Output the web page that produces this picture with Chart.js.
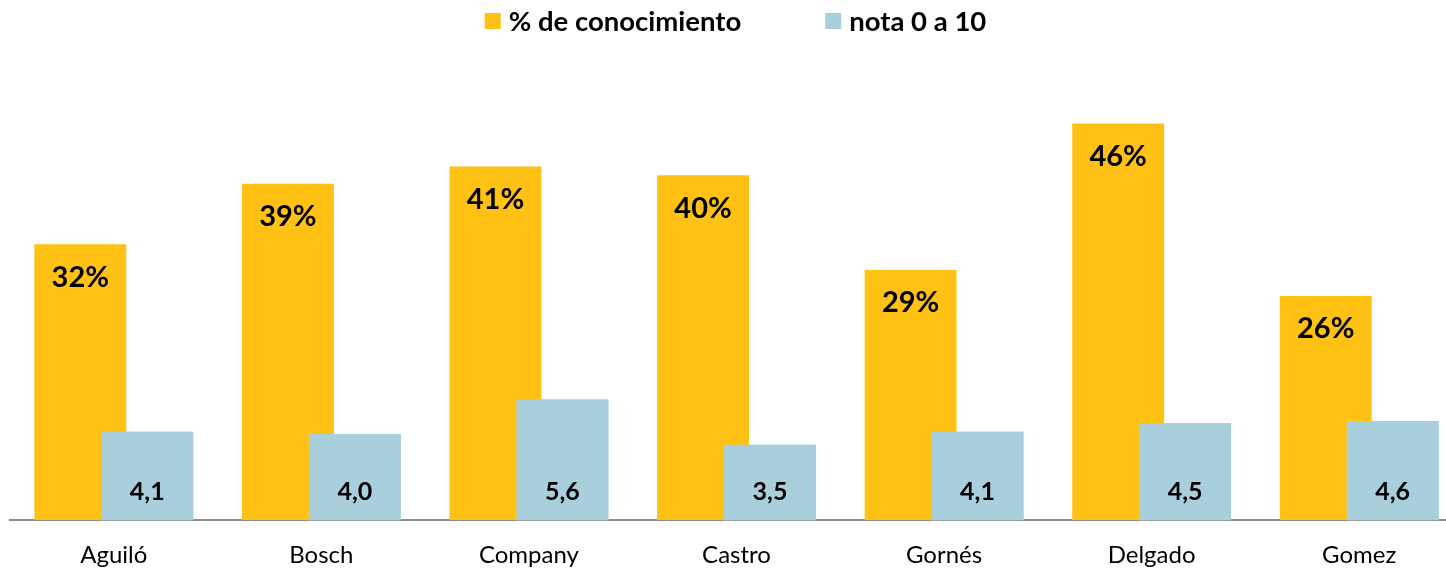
<!DOCTYPE html>
<html>
<head>
<meta charset="utf-8">
<script src="https://cdn.jsdelivr.net/npm/chart.js@4.4.1/dist/chart.umd.min.js"></script>
<style>
  html, body { margin: 0; padding: 0; background: #fff; overflow: hidden; }
  #wrap { width: 1463px; height: 591px; position: relative; }
</style>
</head>
<body>
<div id="wrap"><canvas id="chart"></canvas></div>
<script>
const categories = ["Aguiló", "Bosch", "Company", "Castro", "Gornés", "Delgado", "Gomez"];
const conocimiento = [32, 39, 41, 40, 29, 46, 26];
const nota = [4.1, 4.0, 5.6, 3.5, 4.1, 4.5, 4.6];
const seriesNames = ["% de conocimiento", "nota 0 a 10"];

const yellow = "#FFC114";
const blue = "#A9CFDC";
const fontFamily = "Lato, 'Open Sans', sans-serif";

// blue bars sit on top of the yellow ones, then the value labels
const overlayPlugin = {
  id: "overlay",
  afterDatasetsDraw(chart) {
    chart.getDatasetMeta(1).controller.draw();
    const ctx = chart.ctx;
    const base = chart.chartArea.bottom;
    ctx.save();
    ctx.fillStyle = "#000";
    ctx.textAlign = "center";
    ctx.textBaseline = "middle";
    ctx.font = "bold 29px " + fontFamily;
    chart.getDatasetMeta(0).data.forEach((bar, i) => {
      ctx.fillText(conocimiento[i] + "%", bar.x, bar.y + 33);
    });
    ctx.font = "bold 25px " + fontFamily;
    chart.getDatasetMeta(1).data.forEach((bar, i) => {
      ctx.fillText(nota[i].toFixed(1).replace(".", ","), bar.x, base - 28);
    });
    ctx.restore();
  },
  afterDraw(chart) {
    const ctx = chart.ctx;
    const colors = [yellow, blue];
    ctx.save();
    ctx.font = "bold 27.5px " + fontFamily;
    ctx.textBaseline = "middle";
    const box = 16, gap = 8, itemGap = 84;
    const widths = seriesNames.map(s => ctx.measureText(s).width);
    const total = widths.reduce((a, w) => a + box + gap + w, 0) + itemGap;
    let x = chart.width / 2 - total / 2 + 4;
    const y = 21;
    seriesNames.forEach((name, i) => {
      ctx.fillStyle = colors[i];
      ctx.fillRect(x, y - box / 2, box, box);
      ctx.fillStyle = "#000";
      ctx.fillText(name, x + box + gap, y + 1);
      x += box + gap + widths[i] + itemGap;
    });
    ctx.restore();
  }
};

new Chart(document.getElementById("chart"), {
  type: "bar",
  data: {
    labels: categories,
    datasets: [
      {
        label: seriesNames[0],
        data: conocimiento,
        backgroundColor: yellow,
        yAxisID: "y",
        categoryPercentage: 0.645,
        barPercentage: 1.373,
      },
      {
        label: seriesNames[1],
        data: nota,
        backgroundColor: blue,
        yAxisID: "y1",
        categoryPercentage: 0.645,
        barPercentage: 1.373,
      },
    ],
  },
  options: {
    responsive: true,
    maintainAspectRatio: false,
    animation: false,
    layout: { padding: { left: 10, top: 89, right: 0, bottom: 0 } },
    plugins: {
      legend: { display: false },
      tooltip: { enabled: false },
    },
    scales: {
      x: {
        grid: { display: false, drawTicks: false },
        border: { display: true, color: "#8c8c8c", width: 2 },
        ticks: { color: "#000", padding: 21, font: { family: fontFamily, size: 24 } },
      },
      y: { display: false, min: 0, max: 50 },
      y1: { display: false, min: 0, max: 20 },
    },
  },
  plugins: [overlayPlugin],
});
</script>
</body>
</html>
